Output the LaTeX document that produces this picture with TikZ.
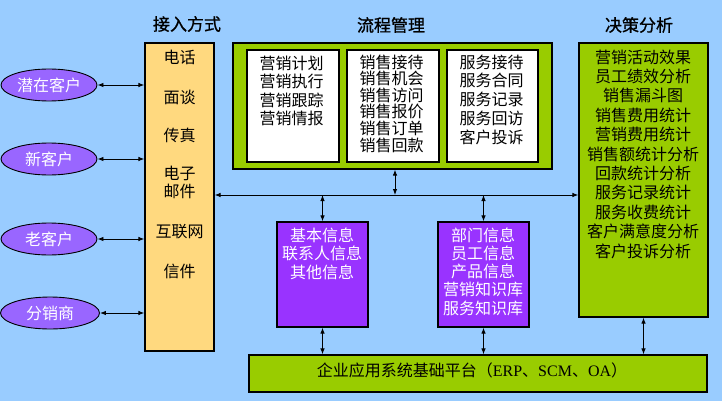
\documentclass[tikz,border=0pt]{standalone}
\usepackage{fontspec}
\setmainfont{Noto Sans CJK SC}
\newfontfamily\serifl{Liberation Serif}
\newfontfamily\titlef[FakeBold=1]{Noto Sans CJK SC}
\usetikzlibrary{arrows.meta,shapes.geometric}
\definecolor{bg}{HTML}{99CCFF}
\definecolor{ell}{HTML}{9966FF}
\definecolor{pur}{HTML}{9933FF}
\definecolor{accc}{HTML}{FFD97F}
\definecolor{grn}{HTML}{99CC00}
\begin{document}
\begin{tikzpicture}[x=1pt,y=-1pt,
 box/.style={draw=black,line width=1.2pt,inner sep=0pt,rectangle},
 txt/.style={inner sep=0pt,align=center,font=\fontsize{16}{18.6}\selectfont},
 ttl/.style={inner sep=0pt,font=\titlef\fontsize{17}{20}\selectfont},
 conn/.style={line width=0.9pt,{Latex[length=6pt,width=4.5pt]}-{Latex[length=6pt,width=4.5pt]}},
 cust/.style={ellipse,draw=black,line width=0.9pt,fill=ell,text=white,inner sep=0pt,minimum width=96pt,minimum height=32pt,font=\fontsize{16}{18}\selectfont}]
\fill[bg] (0,0) rectangle (722,401);
\useasboundingbox (0,0) rectangle (722,401);

% titles
\node[ttl] (t1) at (187,24) {接入方式};
\node[ttl] (t2) at (391,25) {流程管理};
\node[ttl] (t3) at (639,25) {决策分析};

% customers
\node[cust] (e1) at (49,85) {潜在客户};
\node[cust] (e2) at (49,159) {新客户};
\node[cust] (e3) at (49,239) {老客户};
\node[cust,minimum width=99pt] (e4) at (50,313) {分销商};

% access box
\node[box,fill=accc,minimum width=69pt,minimum height=308pt] (acc) at (179.5,197) {};
\node[txt] (a1) at (179.5,57) {电话};
\node[txt] (a2) at (179.5,97) {面谈};
\node[txt] (a3) at (179.5,135) {传真};
\node[txt] (a4) at (179.5,182.5) {电子\\邮件};
\node[txt] (a5) at (179.5,232) {互联网};
\node[txt] (a6) at (179.5,271) {信件};

% process management
\node[box,fill=grn,minimum width=319pt,minimum height=126pt] (proc) at (392.5,106) {};
\node[box,fill=white,minimum width=92pt,minimum height=112pt] (w1) at (293,106) {};
\node[box,fill=white,minimum width=92pt,minimum height=112pt] (w2) at (393,106) {};
\node[box,fill=white,minimum width=91pt,minimum height=112pt] (w3) at (492.5,106) {};
\node[txt] (w1t) at (291.5,91) {营销计划\\营销执行\\营销跟踪\\营销情报};
\node[txt,font=\fontsize{16}{16.6}\selectfont] (w2t) at (391.5,103.5) {销售接待\\销售机会\\销售访问\\销售报价\\销售订单\\销售回款};
\node[txt,font=\fontsize{16}{18.75}\selectfont] (w3t) at (491.5,99.5) {服务接待\\服务合同\\服务记录\\服务回访\\客户投诉};

% decision analysis
\node[box,fill=grn,minimum width=129pt,minimum height=274pt] (dec) at (643.5,180) {};
\node[txt,font=\fontsize{16}{19.4}\selectfont] (dect) at (643,154) {营销活动效果\\员工绩效分析\\销售漏斗图\\销售费用统计\\营销费用统计\\销售额统计分析\\回款统计分析\\服务记录统计\\服务收费统计\\客户满意度分析\\客户投诉分析};

% purple boxes
\node[box,fill=pur,minimum width=91pt,minimum height=105pt] (p1) at (322.5,274.5) {};
\node[box,fill=pur,minimum width=91pt,minimum height=105pt] (p2) at (483.5,274.5) {};
\node[txt,text=white,font=\fontsize{16}{18.5}\selectfont] (p1t) at (322,253.5) {基本信息\\联系人信息\\其他信息};
\node[txt,text=white,font=\fontsize{16}{18.3}\selectfont] (p2t) at (483,271.5) {部门信息\\员工信息\\产品信息\\营销知识库\\服务知识库};

% base platform
\node[box,fill=grn,minimum width=458pt,minimum height=37pt] (base) at (478,373.5) {};
\node[txt] (baset) at (472,370) {企业应用系统基础平台（{\serifl ERP}、{\serifl SCM}、{\serifl OA}）};

% connectors
\coordinate (hl) at (0,195);
\coordinate (j1) at (395,195);
\draw[conn] (acc.east |- hl) -- (dec.west |- hl);
\draw[conn] (e1.east) -- (e1.east -| acc.west);
\draw[conn] (e2.east) -- (e2.east -| acc.west);
\draw[conn] (e3.east) -- (e3.east -| acc.west);
\draw[conn] (e4.east) -- (e4.east -| acc.west);
\draw[conn] (proc.south -| j1) -- (j1);
\draw[conn] (p1.north |- hl) -- (p1.north);
\draw[conn] (p2.north |- hl) -- (p2.north);
\draw[conn] (p1.south) -- (p1.south |- base.north);
\draw[conn] (p2.south) -- (p2.south |- base.north);
\draw[conn] (dec.south) -- (dec.south |- base.north);
\end{tikzpicture}
\end{document}
